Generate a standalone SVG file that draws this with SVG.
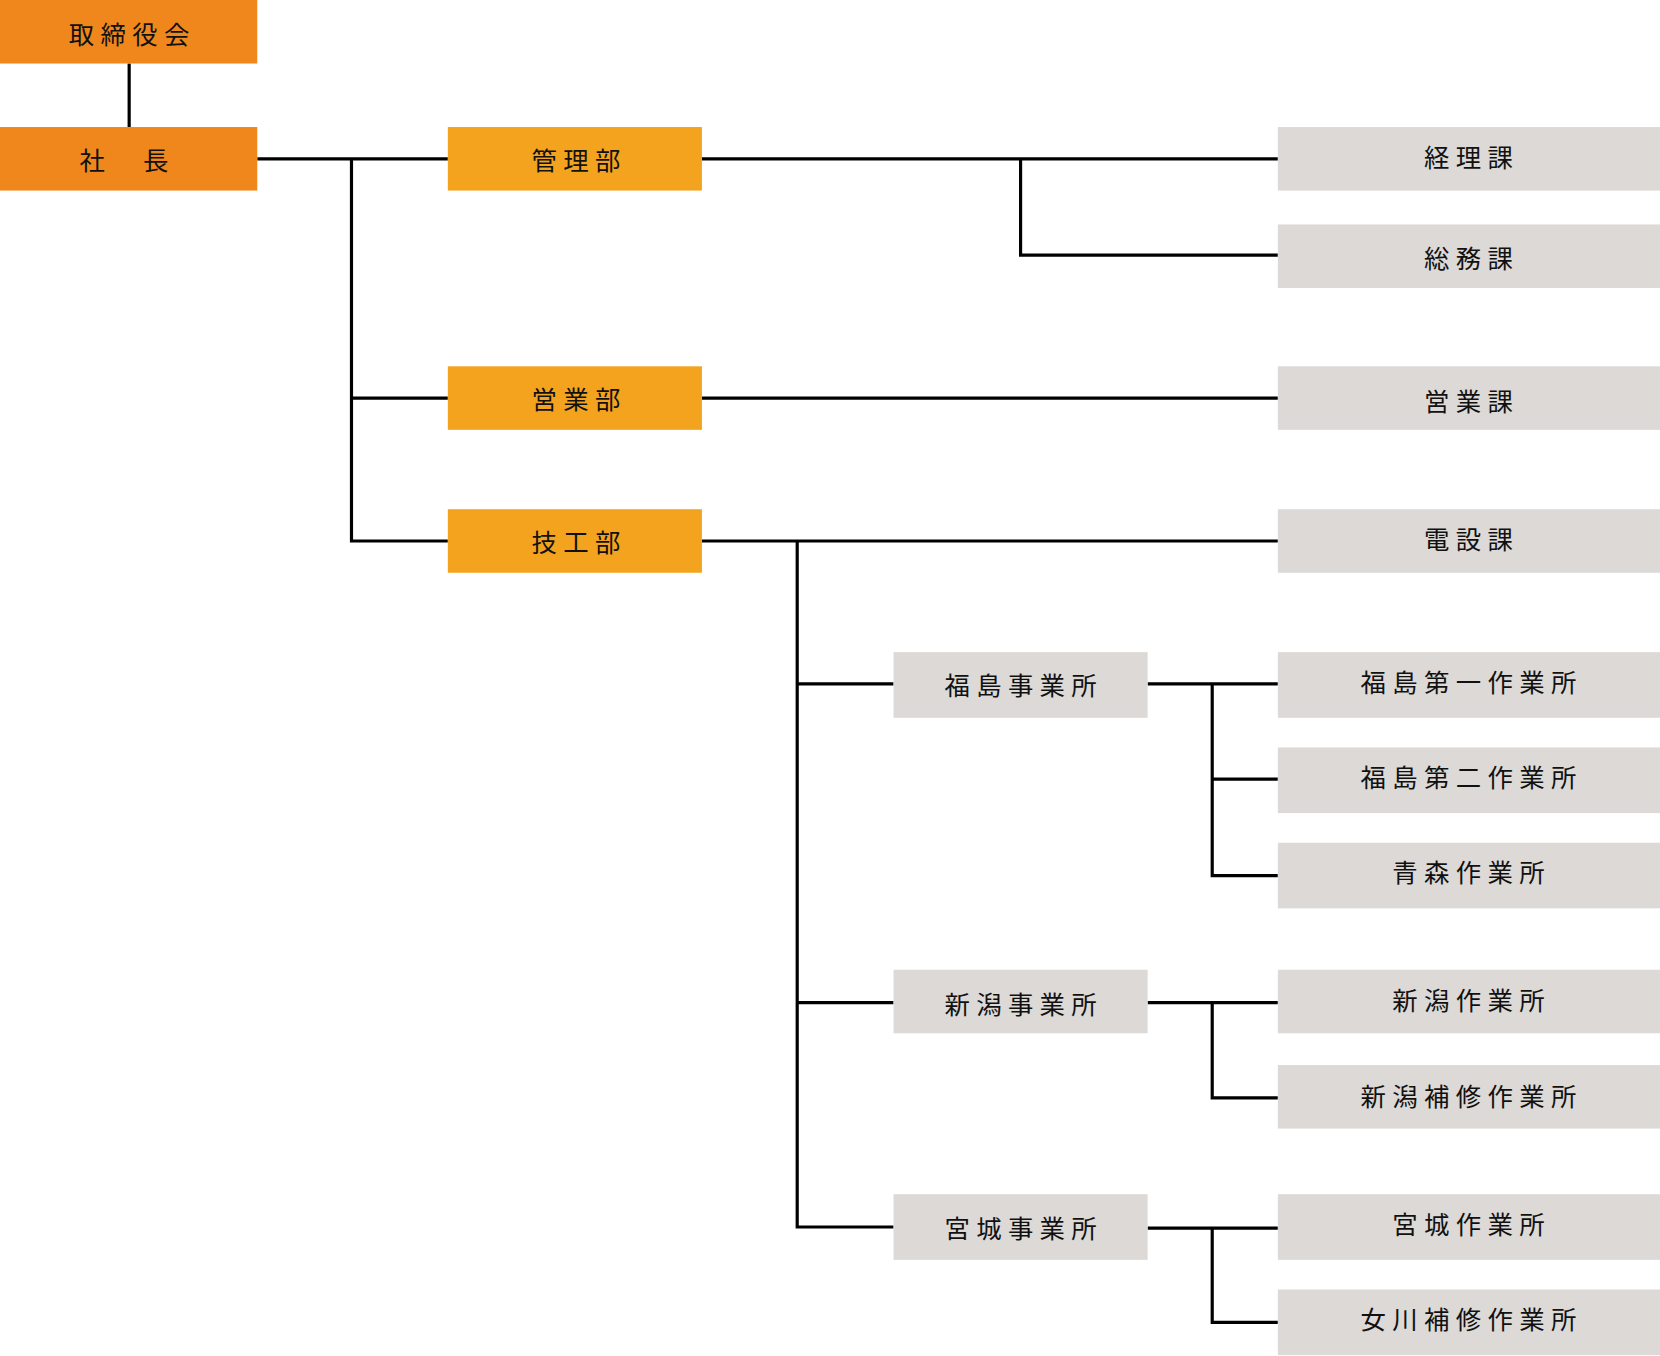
<svg xmlns="http://www.w3.org/2000/svg" width="1660" height="1356" viewBox="0 0 1660 1356">
<style>
.o{fill:#F0871D}.y{fill:#F4A31E}.g{fill:#DCD9D6}
text{font-family:"Noto Sans CJK JP","Noto Sans",sans-serif;font-size:24px;fill:#111;text-anchor:middle;dominant-baseline:central;letter-spacing:6px}
.c path{fill:none;stroke:#000;stroke-width:3}
</style>
<rect width="1660" height="1356" fill="#fff"/>
<g transform="scale(1.0587)">
<g class="c" id="connectors">
<path d="M122 60V120M243 150H423M332 150V511H423M332 376H423M663 150H1207M964 150V241H1207M663 376H1207M663 511H1207M753 511V1159H844M753 646H844M753 947H844M1084 646H1207M1145 646V827H1207M1145 736H1207M1084 947H1207M1145 947V1037H1207M1084 1160H1207M1145 1160V1249H1207"/>
</g>
<g id="n1"><rect class="o" x="0" y="0" width="243" height="60"/><text x="125" y="31">取締役会</text></g>
<g id="n2"><rect class="o" x="0" y="120" width="243" height="60"/><text x="120" y="150">社　長</text></g>
<g id="n3"><rect class="y" x="423" y="120" width="240" height="60"/><text x="547" y="150">管理部</text></g>
<g id="n4"><rect class="y" x="423" y="346" width="240" height="60"/><text x="547" y="376">営業部</text></g>
<g id="n5"><rect class="y" x="423" y="481" width="240" height="60"/><text x="547" y="511">技工部</text></g>
<g id="n6"><rect class="g" x="844" y="616" width="240" height="62"/><text x="967" y="646">福島事業所</text></g>
<g id="n7"><rect class="g" x="844" y="916" width="240" height="60"/><text x="967" y="947">新潟事業所</text></g>
<g id="n8"><rect class="g" x="844" y="1128" width="240" height="62"/><text x="967" y="1159">宮城事業所</text></g>
<g id="n9"><rect class="g" x="1207" y="120" width="361" height="60"/><text x="1390" y="147">経理課</text></g>
<g id="n10"><rect class="g" x="1207" y="212" width="361" height="60"/><text x="1390" y="243">総務課</text></g>
<g id="n11"><rect class="g" x="1207" y="346" width="361" height="60"/><text x="1390" y="378">営業課</text></g>
<g id="n12"><rect class="g" x="1207" y="481" width="361" height="60"/><text x="1390" y="508">電設課</text></g>
<g id="n13"><rect class="g" x="1207" y="616" width="361" height="62"/><text x="1390" y="643">福島第一作業所</text></g>
<g id="n14"><rect class="g" x="1207" y="706" width="361" height="62"/><text x="1390" y="733">福島第二作業所</text></g>
<g id="n15"><rect class="g" x="1207" y="796" width="361" height="62"/><text x="1390" y="823">青森作業所</text></g>
<g id="n16"><rect class="g" x="1207" y="916" width="361" height="60"/><text x="1390" y="944">新潟作業所</text></g>
<g id="n17"><rect class="g" x="1207" y="1006" width="361" height="60"/><text x="1390" y="1034">新潟補修作業所</text></g>
<g id="n18"><rect class="g" x="1207" y="1128" width="361" height="62"/><text x="1390" y="1155">宮城作業所</text></g>
<g id="n19"><rect class="g" x="1207" y="1218" width="361" height="62"/><text x="1390" y="1245">女川補修作業所</text></g>
</g>
</svg>
